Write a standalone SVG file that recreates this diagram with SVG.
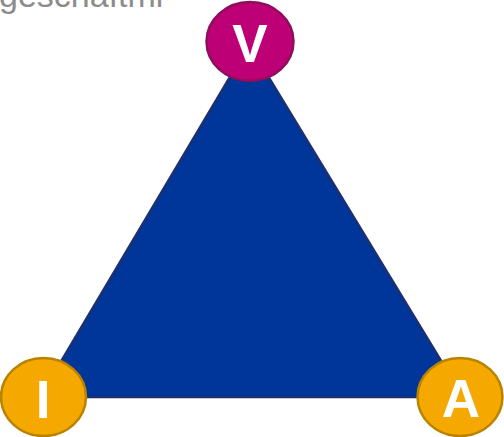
<svg xmlns="http://www.w3.org/2000/svg" width="504" height="437" viewBox="0 0 504 437">
<style>
.lbl{font-family:"Liberation Sans",Arial,sans-serif;font-weight:bold;font-size:53px;fill:#ffffff;text-anchor:middle}
.gold{fill:#f5a800;stroke:#b98300;stroke-width:2.5}
</style>
<rect width="504" height="437" fill="#ffffff"/>
<text x="-1" y="7" font-family="Liberation Sans, Arial, sans-serif" font-size="34" fill="#8c8c8c">geschäftmi</text>
<g id="connectors">
<polygon points="249,45 40,397 463,397" fill="#00359a" stroke="#1b2f73" stroke-width="2.5" stroke-linejoin="round"/>
</g>
<g id="node-V">
<ellipse cx="250" cy="41.5" rx="43.5" ry="39.5" fill="#be0077" stroke="#8c0f5c" stroke-width="2.5"/>
<text class="lbl" x="250" y="62">V</text>
</g>
<g id="node-I">
<ellipse cx="43.5" cy="397" rx="42.5" ry="39" class="gold"/>
<text class="lbl" x="43" y="418">I</text>
</g>
<g id="node-A">
<ellipse cx="460" cy="397" rx="42.5" ry="39" class="gold"/>
<text class="lbl" x="461" y="417">A</text>
</g>
</svg>
